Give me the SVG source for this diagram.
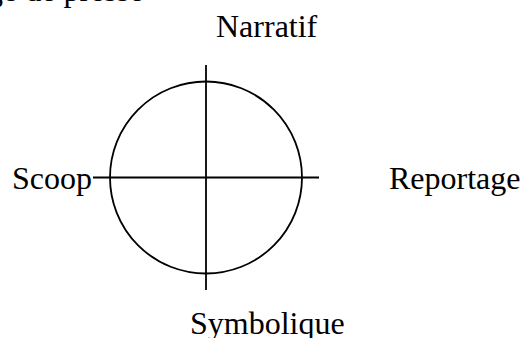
<svg xmlns="http://www.w3.org/2000/svg" width="523" height="338" viewBox="0 0 523 338">
<style>
text{font-family:"Liberation Serif","Times New Roman",serif;font-size:32px;fill:#000}
.ln{stroke:#000;stroke-width:1.8;fill:none}
</style>
<rect width="523" height="338" fill="#fff"/>
<text id="title" x="-13" y="1">ge de presse</text>
<g id="circle"><circle class="ln" cx="206" cy="177.5" r="96"/></g>
<g id="connectors">
<line class="ln" x1="206" y1="65" x2="206" y2="290"/>
<line class="ln" x1="93" y1="177.5" x2="319" y2="177.5"/>
</g>
<g id="narratif"><text x="216" y="37">Narratif</text></g>
<g id="scoop"><text x="12" y="189">Scoop</text></g>
<g id="reportage"><text x="389" y="189">Reportage</text></g>
<g id="symbolique"><text x="190" y="334">Symbolique</text></g>
</svg>
